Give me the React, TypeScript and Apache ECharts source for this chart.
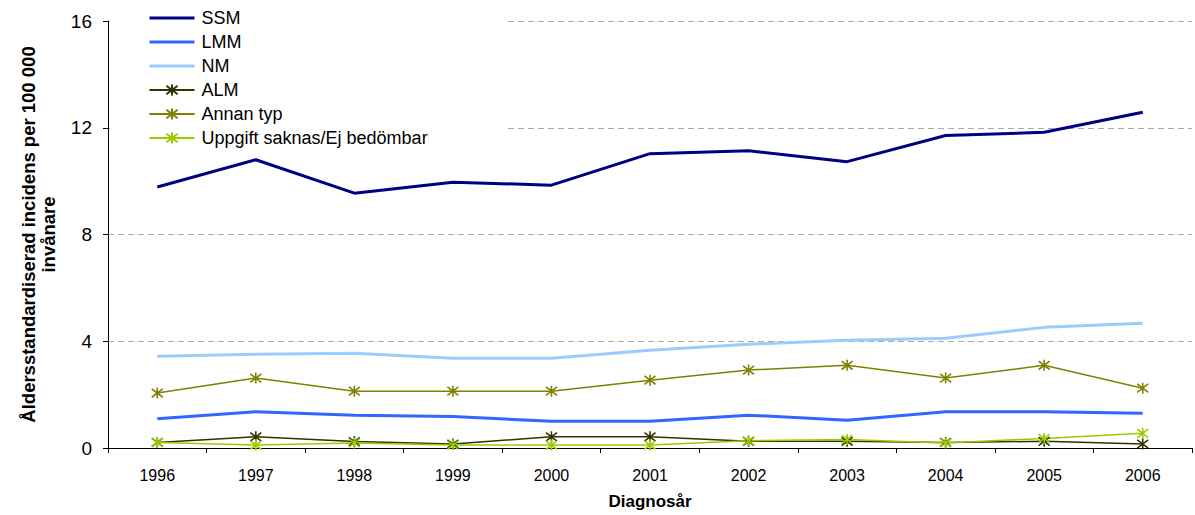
import React, { useEffect, useRef } from "react";
import * as echarts from "echarts";

const years = ["1996", "1997", "1998", "1999", "2000", "2001", "2002", "2003", "2004", "2005", "2006"];
const ssm = [9.78, 10.8, 9.55, 9.96, 9.85, 11.03, 11.14, 10.73, 11.71, 11.83, 12.58];
const lmm = [1.1, 1.36, 1.23, 1.18, 1.0, 1.0, 1.23, 1.04, 1.36, 1.36, 1.3];
const nm = [3.44, 3.51, 3.55, 3.36, 3.36, 3.66, 3.89, 4.04, 4.11, 4.52, 4.67];
const alm = [0.21, 0.42, 0.24, 0.15, 0.42, 0.42, 0.25, 0.25, 0.21, 0.25, 0.15];
const annan = [2.06, 2.62, 2.13, 2.13, 2.13, 2.54, 2.92, 3.1, 2.62, 3.1, 2.24];
const uppgift = [0.21, 0.11, 0.19, 0.11, 0.11, 0.11, 0.27, 0.32, 0.19, 0.36, 0.55];

const FONT = "'Liberation Sans', Arial, sans-serif";
const STAR = "path://M0,0L10,10M0,10L10,0M5,-1.5L5,11.5";

export default function App() {
  const ref = useRef<HTMLDivElement>(null);
  useEffect(() => {
    if (!ref.current) return;
    const chart = echarts.init(ref.current, undefined, { renderer: "svg" });
    const plain = (name: string, data: number[], color: string) => ({
      name,
      type: "line",
      data,
      symbol: "none",
      lineStyle: { color, width: 3 },
      itemStyle: { color },
      z: 3,
    });
    const starred = (name: string, data: number[], color: string) => ({
      name,
      type: "line",
      data,
      symbol: STAR,
      symbolSize: 11,
      showSymbol: true,
      lineStyle: { color, width: 1.5 },
      itemStyle: { color, borderColor: color, borderWidth: 1.6 },
      z: 3,
    });
    chart.setOption({
      animation: false,
      backgroundColor: "#fff",
      textStyle: { fontFamily: FONT },
      grid: { left: 108, right: 3, top: 21, bottom: 66, containLabel: false },
      graphic: [
        {
          type: "rect",
          shape: { x: 110, y: 0, width: 395, height: 150 },
          style: { fill: "#fff" },
          z: 1,
          silent: true,
        },
      ],
      legend: {
        orient: "vertical",
        left: 148,
        top: 9,
        padding: 0,
        itemWidth: 45,
        itemHeight: 14,
        itemGap: 6,
        textStyle: { fontSize: 18, color: "#000", fontFamily: FONT, padding: [0, 0, 0, 2] },
        data: [
          { name: "SSM", itemStyle: { opacity: 0 }, lineStyle: { width: 3 } },
          { name: "LMM", itemStyle: { opacity: 0 }, lineStyle: { width: 3 } },
          { name: "NM", itemStyle: { opacity: 0 }, lineStyle: { width: 3 } },
          { name: "ALM" },
          { name: "Annan typ" },
          { name: "Uppgift saknas/Ej bedömbar" },
        ],
      },
      xAxis: {
        type: "category",
        data: years,
        boundaryGap: true,
        name: "Diagnosår",
        nameLocation: "middle",
        nameGap: 45,
        nameTextStyle: { fontSize: 17, fontWeight: "bold", color: "#000", fontFamily: FONT },
        axisLine: { lineStyle: { color: "#000", width: 1 } },
        axisTick: { show: true, interval: 0, length: 5, lineStyle: { color: "#000" } },
        axisLabel: { fontSize: 16, color: "#000", margin: 19, fontFamily: FONT, interval: 0 },
        splitLine: { show: false },
      },
      yAxis: {
        type: "value",
        min: 0,
        max: 16,
        interval: 4,
        name: "Åldersstandardiserad incidens per 100 000\ninvånare",
        nameLocation: "middle",
        nameRotate: 90,
        nameGap: 50,
        nameTextStyle: { fontSize: 18.5, fontWeight: "bold", color: "#000", fontFamily: FONT, lineHeight: 20, align: "center" },
        axisLine: { show: true, lineStyle: { color: "#000", width: 1 } },
        axisTick: { show: true, length: 5, lineStyle: { color: "#000" } },
        axisLabel: { fontSize: 19, color: "#000", margin: 16, fontFamily: FONT },
        splitLine: { show: true, lineStyle: { color: "#aaa", type: [6, 4], width: 1 } },
      },
      series: [
        plain("SSM", ssm, "#000080"),
        plain("LMM", lmm, "#3366FF"),
        plain("NM", nm, "#99CCFF"),
        starred("ALM", alm, "#333300"),
        starred("Annan typ", annan, "#808000"),
        starred("Uppgift saknas/Ej bedömbar", uppgift, "#99CC00"),
      ],
    });
    return () => chart.dispose();
  }, []);
  return (
    <div
      ref={ref}
      style={{ position: "fixed", left: 0, top: 0, width: 1195, height: 515 }}
    />
  );
}
